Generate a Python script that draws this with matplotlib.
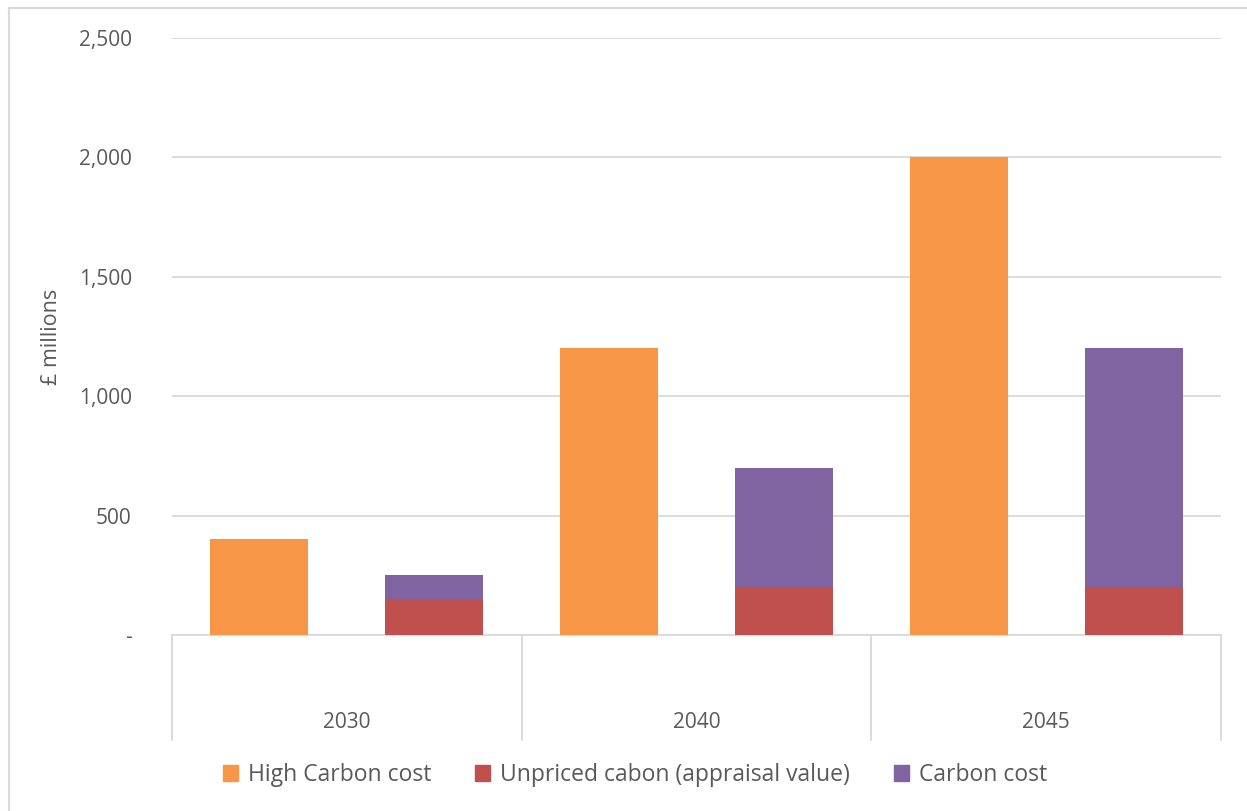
import matplotlib.pyplot as plt
import matplotlib.transforms as mtransforms
from matplotlib.lines import Line2D
from matplotlib.patches import Patch

years = ['2030', '2040', '2045']
high_carbon = [400, 1200, 2000]
unpriced = [150, 200, 200]
carbon_cost = [100, 500, 1000]

c_orange = '#F79646'
c_red = '#C0504D'
c_purple = '#8064A2'
c_text = '#595959'
c_grid = '#D9D9D9'

plt.rcParams['font.family'] = ['Open Sans', 'DejaVu Sans']

fig = plt.figure(figsize=(12.47, 8.11), dpi=100)
ax = fig.add_axes([172/1247, 1-635/811, (1221-172)/1247, (635-38)/811])

x = list(range(len(years)))
w = 0.28
xo = [i - 0.25 for i in x]
xs = [i + 0.25 for i in x]
ax.bar(xo, high_carbon, width=w, color=c_orange, zorder=3)
ax.bar(xs, unpriced, width=w, color=c_red, zorder=3)
ax.bar(xs, carbon_cost, width=w, bottom=unpriced, color=c_purple, zorder=3)

ax.set_xlim(-0.5, 2.5)
ax.set_ylim(0, 2500)
ax.set_yticks([0, 500, 1000, 1500, 2000, 2500])
ax.set_yticklabels(['-', '500', '1,000', '1,500', '2,000', '2,500'])
ax.tick_params(axis='y', length=0, pad=29, labelsize=15, labelcolor=c_text)
ax.set_xticks([])
ax.yaxis.grid(True, color=c_grid, linewidth=1.3, zorder=0)
for s in ['top', 'right', 'left']:
    ax.spines[s].set_visible(False)
ax.spines['bottom'].set_color(c_grid)
ax.spines['bottom'].set_linewidth(1.3)
ax.set_ylabel('£ millions', fontsize=15.5, color=c_text)
ax.yaxis.set_label_coords(-(172-62)/1049, 0.5)

# category separators and labels below the axis
tr = mtransforms.blended_transform_factory(ax.transData, ax.transAxes)
sep_y = -(740-635)/597
for b in [-0.5, 0.5, 1.5, 2.5]:
    ax.plot([b, b], [0, sep_y], transform=tr, color=c_grid, linewidth=1.3, clip_on=False)
for i, yr in enumerate(years):
    ax.text(i, -(722-635)/597, yr, transform=tr, ha='center', va='center',
            fontsize=15, color=c_text)

handles = [Patch(color=c_orange, label='High Carbon cost'),
           Patch(color=c_red, label='Unpriced cabon (appraisal value)'),
           Patch(color=c_purple, label='Carbon cost')]
fig.legend(handles=handles, loc='center', bbox_to_anchor=(635/1247, 1-775/811),
           ncol=3, frameon=False, fontsize=16.5, labelcolor=c_text,
           handlelength=0.65, handleheight=0.65, handletextpad=0.45, columnspacing=1.9)

# chart border (top and left edges visible)
fig.add_artist(Line2D([9/1247, 1], [1-8/811, 1-8/811], color=c_grid, linewidth=1.5))
fig.add_artist(Line2D([9/1247, 9/1247], [0, 1-8/811], color=c_grid, linewidth=1.5))

fig.savefig('out.png', dpi=100)
